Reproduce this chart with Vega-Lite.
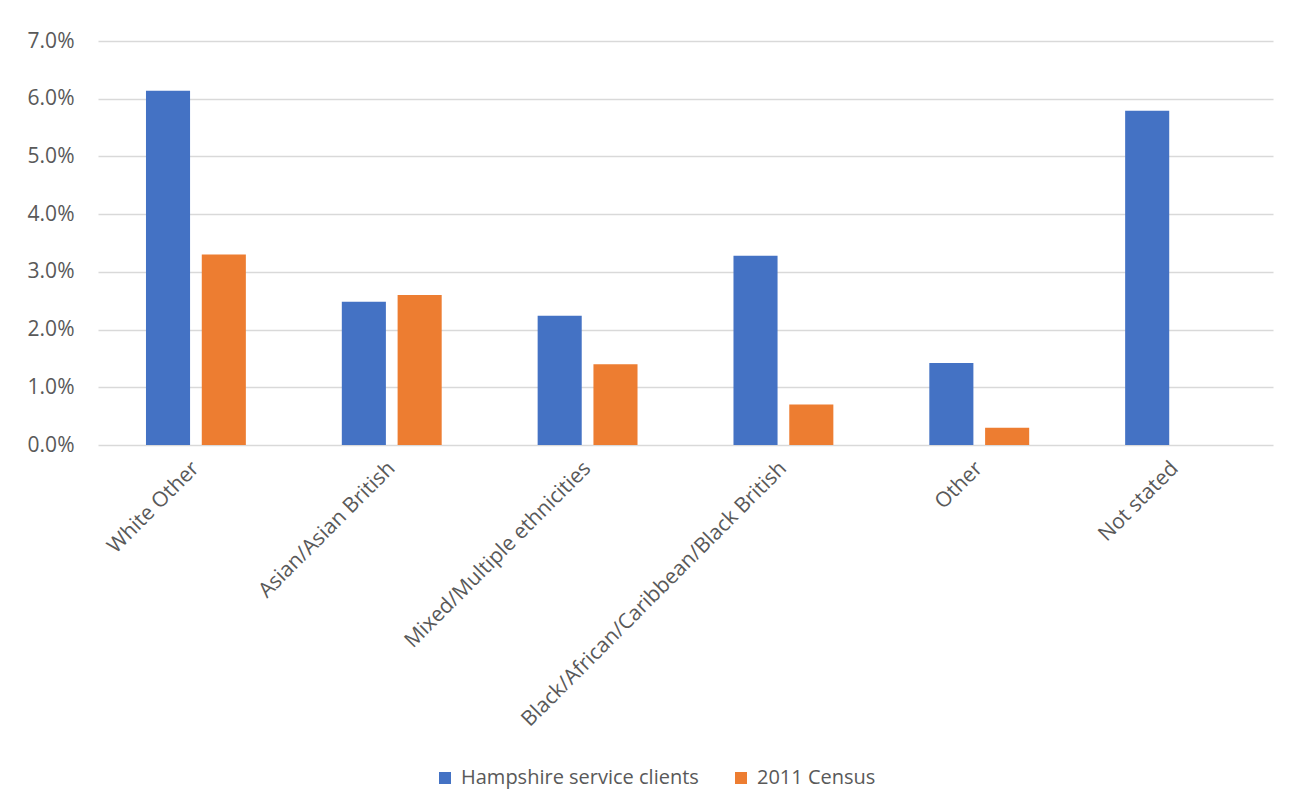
{
  "$schema": "https://vega.github.io/schema/vega-lite/v6.json",
  "width": 1175,
  "height": 404,
  "autosize": {"type": "none"},
  "padding": {"left": 98, "top": 41, "right": 17, "bottom": 365},
  "background": "white",
  "config": {
    "view": {"stroke": null},
    "font": "Open Sans"
  },
  "data": {
    "values": [
      {"category": "White Other", "series": "Hampshire service clients", "value": 0.0614},
      {"category": "White Other", "series": "2011 Census", "value": 0.033},
      {"category": "Asian/Asian British", "series": "Hampshire service clients", "value": 0.0248},
      {"category": "Asian/Asian British", "series": "2011 Census", "value": 0.026},
      {"category": "Mixed/Multiple ethnicities", "series": "Hampshire service clients", "value": 0.0224},
      {"category": "Mixed/Multiple ethnicities", "series": "2011 Census", "value": 0.014},
      {"category": "Black/African/Caribbean/Black British", "series": "Hampshire service clients", "value": 0.0328},
      {"category": "Black/African/Caribbean/Black British", "series": "2011 Census", "value": 0.007},
      {"category": "Other", "series": "Hampshire service clients", "value": 0.0142},
      {"category": "Other", "series": "2011 Census", "value": 0.003},
      {"category": "Not stated", "series": "Hampshire service clients", "value": 0.0579},
      {"category": "Not stated", "series": "2011 Census", "value": 0}
    ]
  },
  "mark": {"type": "bar"},
  "encoding": {
    "x": {
      "field": "category",
      "type": "nominal",
      "sort": null,
      "title": null,
      "scale": {"paddingInner": 0.49, "paddingOuter": 0.245},
      "axis": {
        "domain": false,
        "ticks": false,
        "labelAngle": -45,
        "labelAlign": "right",
        "labelBaseline": "middle",
        "labelPadding": 20,
        "labelLimit": 600,
        "labelFont": "Open Sans",
        "labelFontSize": 21,
        "labelColor": "#595959"
      }
    },
    "xOffset": {
      "field": "series",
      "type": "nominal",
      "sort": ["Hampshire service clients", "2011 Census"],
      "scale": {"paddingInner": 0.21, "paddingOuter": 0}
    },
    "y": {
      "field": "value",
      "type": "quantitative",
      "title": null,
      "scale": {"domain": [0, 0.07], "nice": false},
      "axis": {
        "format": ".1%",
        "values": [0, 0.01, 0.02, 0.03, 0.04, 0.05, 0.06, 0.07],
        "labelOverlap": false,
        "domain": false,
        "ticks": false,
        "labelPadding": 24,
        "labelFont": "Open Sans",
        "labelFontSize": 21,
        "labelColor": "#595959",
        "gridColor": "#d9d9d9",
        "gridWidth": 1.5
      }
    },
    "color": {
      "field": "series",
      "type": "nominal",
      "sort": ["Hampshire service clients", "2011 Census"],
      "scale": {"domain": ["Hampshire service clients", "2011 Census"], "range": ["#4472C4", "#ED7D31"]},
      "legend": {
        "title": null,
        "orient": "none",
        "legendX": 337,
        "legendY": 727,
        "direction": "horizontal",
        "symbolType": "square",
        "symbolSize": 144,
        "symbolStrokeWidth": 0,
        "labelOffset": 6,
        "labelLimit": 600,
        "labelFont": "Open Sans",
        "labelFontSize": 20,
        "labelColor": "#595959",
        "columnPadding": 32
      }
    }
  }
}
